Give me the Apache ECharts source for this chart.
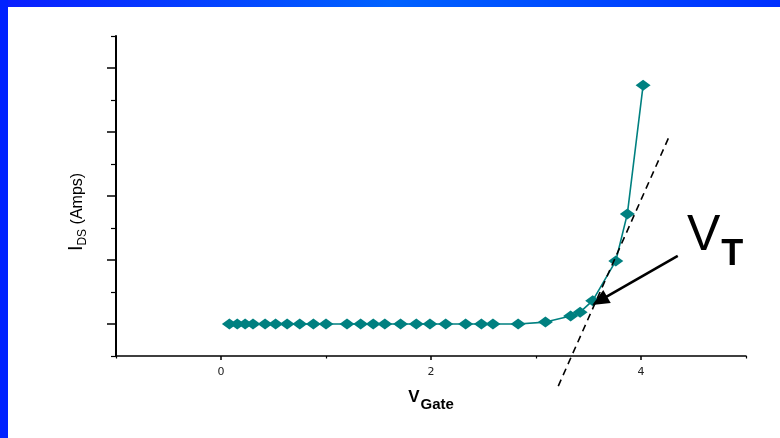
<!DOCTYPE html>
<html><head><meta charset="utf-8">
<script src="https://cdn.jsdelivr.net/npm/echarts@6/dist/echarts.min.js"></script>
<style>html,body{margin:0;padding:0;background:#fff}#c{width:780px;height:438px}</style>
</head><body><div id="c"></div>
<script>
// Measured transfer curve (V_Gate, I_DS in arbitrary units)
const vGate = [0.08,0.155,0.23,0.305,0.42,0.52,0.63,0.75,0.88,1.0,1.2,1.33,1.45,1.56,1.71,1.86,1.99,2.14,2.33,2.48,2.59,2.83,3.09,3.33,3.42,3.54,3.76,3.87,4.02];
const iDS   = [0,0,0,0,0,0,0,0,0,0,0,0,0,0,0,0,0,0,0,0,0,0,0.06,0.25,0.37,0.73,1.97,3.44,7.46];
// Tangent (threshold extrapolation) line end points
const tangentX = [3.212, 4.279];
const tangentY = [-1.94, 5.94];
// Arrow pointing at V_T: start, end
const arrowStart = [4.35, 2.13];
const arrowEnd = [3.606, 0.728];
// Ticks
const xMajorTicks = [0, 2, 4];
const xMinorTicks = [-1, 1, 3, 5];
const yMajorTicks = [0, 2, 4, 6, 8];
const yMinorTicks = [-1, 1, 3, 5, 7, 9];

const chart = echarts.init(document.getElementById('c'));
const font = 'Liberation Sans, Arial, sans-serif';
const xRange = {min: -1, max: 5};
const yRange = {min: -1, max: 9};

chart.setOption({
  backgroundColor: '#fff',
  animation: false,
  grid: {left: 116, right: 34, top: 36, bottom: 82},
  xAxis: [{
    type: 'value', ...xRange, position: 'bottom',
    splitLine: {show: false},
    axisLine: {show: true, onZero: false, lineStyle: {color: '#000', width: 1.5}},
    axisTick: {show: true, customValues: xMajorTicks, length: 4, lineStyle: {color: '#000', width: 1.5}},
    axisLabel: {show: true, customValues: xMajorTicks, margin: 11, fontSize: 11, color: '#222', fontFamily: 'DejaVu Sans'},
    name: '{v|V}{g|Gate}', nameLocation: 'middle', nameGap: 33,
    nameTextStyle: {
      rich: {
        v: {fontFamily: font, fontWeight: 'bold', fontSize: 17, color: '#000', verticalAlign: 'bottom', padding: [0,0,6,0]},
        g: {fontFamily: font, fontWeight: 'bold', fontSize: 15, color: '#000', verticalAlign: 'bottom', padding: [0,0,0,1]}
      }
    }
  }, {
    type: 'value', ...xRange, position: 'bottom',
    splitLine: {show: false},
    axisLine: {show: false, onZero: false},
    axisTick: {show: true, customValues: xMinorTicks, length: 2.5, lineStyle: {color: '#000', width: 1.2}},
    axisLabel: {show: false}
  }],
  yAxis: [{
    type: 'value', ...yRange, position: 'left',
    splitLine: {show: false},
    axisLine: {show: true, onZero: false, lineStyle: {color: '#000', width: 2}},
    axisTick: {show: true, customValues: yMajorTicks, length: 9, lineStyle: {color: '#000', width: 1.5}},
    axisLabel: {show: false},
    name: '{i|I}{d|DS}{a| (Amps)}', nameLocation: 'middle', nameRotate: 90, nameGap: 30,
    nameTextStyle: {
      padding: [0, 0, 0, -32],
      rich: {
        i: {fontFamily: font, fontSize: 20, color: '#000', verticalAlign: 'bottom'},
        d: {fontFamily: font, fontSize: 12, color: '#000', verticalAlign: 'bottom', padding: [0,0,-3,0]},
        a: {fontFamily: font, fontSize: 16, color: '#000', verticalAlign: 'bottom'}
      }
    }
  }, {
    type: 'value', ...yRange, position: 'left',
    splitLine: {show: false},
    axisLine: {show: false, onZero: false},
    axisTick: {show: true, customValues: yMinorTicks, length: 5, lineStyle: {color: '#000', width: 1.2}},
    axisLabel: {show: false}
  }],
  series: [{
    type: 'line',
    xAxisIndex: 0, yAxisIndex: 0,
    data: vGate.map((v, i) => [v, iDS[i]]),
    symbol: 'diamond', symbolSize: [15, 11],
    itemStyle: {color: '#008080'},
    lineStyle: {color: '#008080', width: 1.6},
    z: 3
  }, {
    type: 'line',
    xAxisIndex: 0, yAxisIndex: 0,
    clip: false,
    data: tangentX.map((v, i) => [v, tangentY[i]]),
    symbol: 'none',
    lineStyle: {color: '#000', width: 1.6, type: [7, 5]},
    z: 4,
    markLine: {
      silent: true,
      symbol: ['none', 'triangle'],
      symbolSize: [15, 17],
      label: {show: false},
      lineStyle: {color: '#000', width: 2.6, type: 'solid'},
      data: [[{coord: arrowStart}, {coord: arrowEnd}]]
    }
  }],
  graphic: [
    {type: 'text', left: 687, top: 211, z: 10,
     style: {text: '{v|V}{t|T}', rich: {
       v: {fontFamily: font, fontSize: 50, fill: '#000', verticalAlign: 'bottom'},
       t: {fontFamily: font, fontSize: 36, fontWeight: 'bold', fill: '#000', verticalAlign: 'bottom', padding: [0,0,-12,1]}
     }}},
    {type: 'rect', left: 0, top: 0, z: 20, shape: {width: 780, height: 7},
     style: {fill: new echarts.graphic.LinearGradient(0, 0, 1, 0, [
       {offset: 0, color: '#0a1eff'}, {offset: 0.5, color: '#0062ff'}, {offset: 1, color: '#0030ff'}])}},
    {type: 'rect', left: 0, top: 0, z: 20, shape: {width: 8, height: 438}, style: {fill: '#0022ff'}}
  ]
});
</script></body></html>
